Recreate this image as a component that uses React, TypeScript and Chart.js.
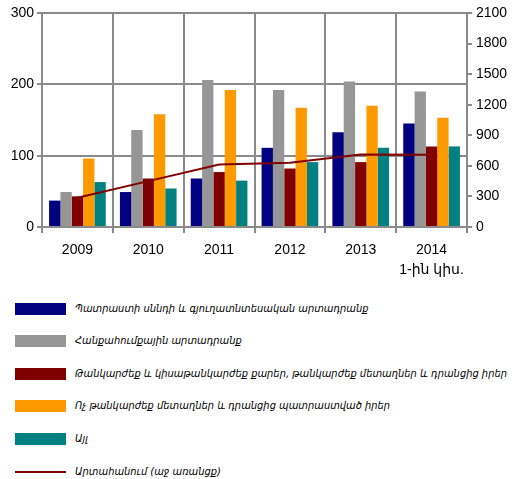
import React, { useEffect, useRef } from 'react';
import { Chart, registerables } from 'chart.js';

Chart.register(...registerables);

const categories: (string | string[])[] = ['2009', '2010', '2011', '2012', '2013', ['2014', '1-ին կիս.']];

const foodValues = [37, 49, 68, 111, 133, 145];
const mineralValues = [49, 136, 206, 192, 204, 190];
const preciousValues = [43, 68, 77, 82, 91, 113];
const baseMetalValues = [96, 158, 192, 167, 170, 153];
const otherValues = [63, 54, 65, 91, 111, 113];
const exportValues = [288, 450, 613, 630, 712, 708];

const barLabels = [
  'Պատրաստի սննդի և գյուղատնտեսական արտադրանք',
  'Հանքահումքային արտադրանք',
  'Թանկարժեք և կիսաթանկարժեք քարեր, թանկարժեք մետաղներ և դրանցից իրեր',
  'Ոչ թանկարժեք մետաղներ և դրանցից պատրաստված իրեր',
  'Այլ',
];
const exportLabel = 'Արտահանում (աջ առանցք)';

const barColors = ['#000080', '#969696', '#800000', '#FF9900', '#008080'];
const lineColor = '#800000';
const gridColor = '#8a8a8a';

const leftTicks = [0, 100, 200, 300];
const rightTicks = [0, 300, 600, 900, 1200, 1500, 1800, 2100];

const CANVAS_W = 522;
const CANVAS_H = 290;

export default function App() {
  const ref = useRef<HTMLCanvasElement>(null);

  useEffect(() => {
    const barSeries = [foodValues, mineralValues, preciousValues, baseMetalValues, otherValues];
    const tickFont = { family: '"Liberation Sans", Arial, "DejaVu Sans", sans-serif', size: 14 };
    const chart = new Chart(ref.current as HTMLCanvasElement, {
      type: 'bar',
      data: {
        labels: categories as any,
        datasets: [
          {
            type: 'line',
            label: exportLabel,
            data: exportValues,
            yAxisID: 'y1',
            borderColor: lineColor,
            backgroundColor: lineColor,
            borderWidth: 2,
            pointRadius: 0,
            tension: 0,
            order: 0,
          } as any,
          ...barSeries.map((vals, i) => ({
            type: 'bar',
            label: barLabels[i],
            data: vals,
            yAxisID: 'y',
            backgroundColor: barColors[i],
            borderWidth: 0,
            categoryPercentage: 0.8,
            barPercentage: 1.0,
            order: 1,
          })),
        ],
      },
      options: {
        responsive: false,
        animation: false,
        layout: { padding: { top: 13, left: 0, right: 0, bottom: 0 } },
        plugins: { legend: { display: false }, tooltip: { enabled: false } },
        scales: {
          x: {
            offset: true,
            grid: { offset: true, color: gridColor, lineWidth: 2, tickLength: 6, drawOnChartArea: true, drawTicks: true },
            border: { color: gridColor, width: 2 },
            ticks: { color: '#000', font: { ...tickFont, lineHeight: 20 / 14 }, padding: 7, maxRotation: 0, autoSkip: false },
            afterFit: (s: any) => { s.height = CANVAS_H - 227; },
          },
          y: {
            position: 'left',
            min: 0,
            max: 300,
            afterBuildTicks: (s: any) => { s.ticks = leftTicks.map((v) => ({ value: v })); },
            grid: { color: gridColor, lineWidth: 2, tickLength: 5 },
            border: { color: gridColor, width: 2 },
            ticks: { color: '#000', font: tickFont, padding: 3, callback: (v: any) => String(v) },
            afterFit: (s: any) => { s.width = 42; },
          },
          y1: {
            position: 'right',
            min: 0,
            max: 2100,
            afterBuildTicks: (s: any) => { s.ticks = rightTicks.map((v) => ({ value: v })); },
            grid: { color: gridColor, lineWidth: 2, tickLength: 5, drawOnChartArea: false },
            border: { color: gridColor, width: 2 },
            ticks: { color: '#000', font: tickFont, padding: 4, callback: (v: any) => String(v) },
            afterFit: (s: any) => { s.width = CANVAS_W - 467; },
          },
        },
      },
    });
    return () => chart.destroy();
  }, []);

  const legendItems = [
    ...barLabels.map((l, i) => ({ label: l, color: barColors[i], line: false })),
    { label: exportLabel, color: lineColor, line: true },
  ];

  return (
    <div style={{ position: 'absolute', left: 0, top: 0, width: CANVAS_W, height: 479, background: '#fff' }}>
      <canvas ref={ref} width={CANVAS_W} height={CANVAS_H} style={{ display: 'block' }} />
      {legendItems.map((it, i) => {
        const center = 308.5 + i * 32.6;
        return (
          <div key={i}>
            <div
              style={{
                position: 'absolute',
                left: 15,
                width: 51,
                top: it.line ? center - 1 : center - 6,
                height: it.line ? 2 : 12,
                background: it.color,
              }}
            />
            <div
              style={{
                position: 'absolute',
                left: 75,
                top: center - 8,
                height: 16,
                lineHeight: '16px',
                whiteSpace: 'nowrap',
                fontFamily: '"DejaVu Sans", sans-serif',
                fontStyle: 'italic',
                fontSize: 11,
                transform: 'scaleX(0.9)',
                transformOrigin: 'left center',
                color: '#000',
              }}
            >
              {it.label}
            </div>
          </div>
        );
      })}
    </div>
  );
}
